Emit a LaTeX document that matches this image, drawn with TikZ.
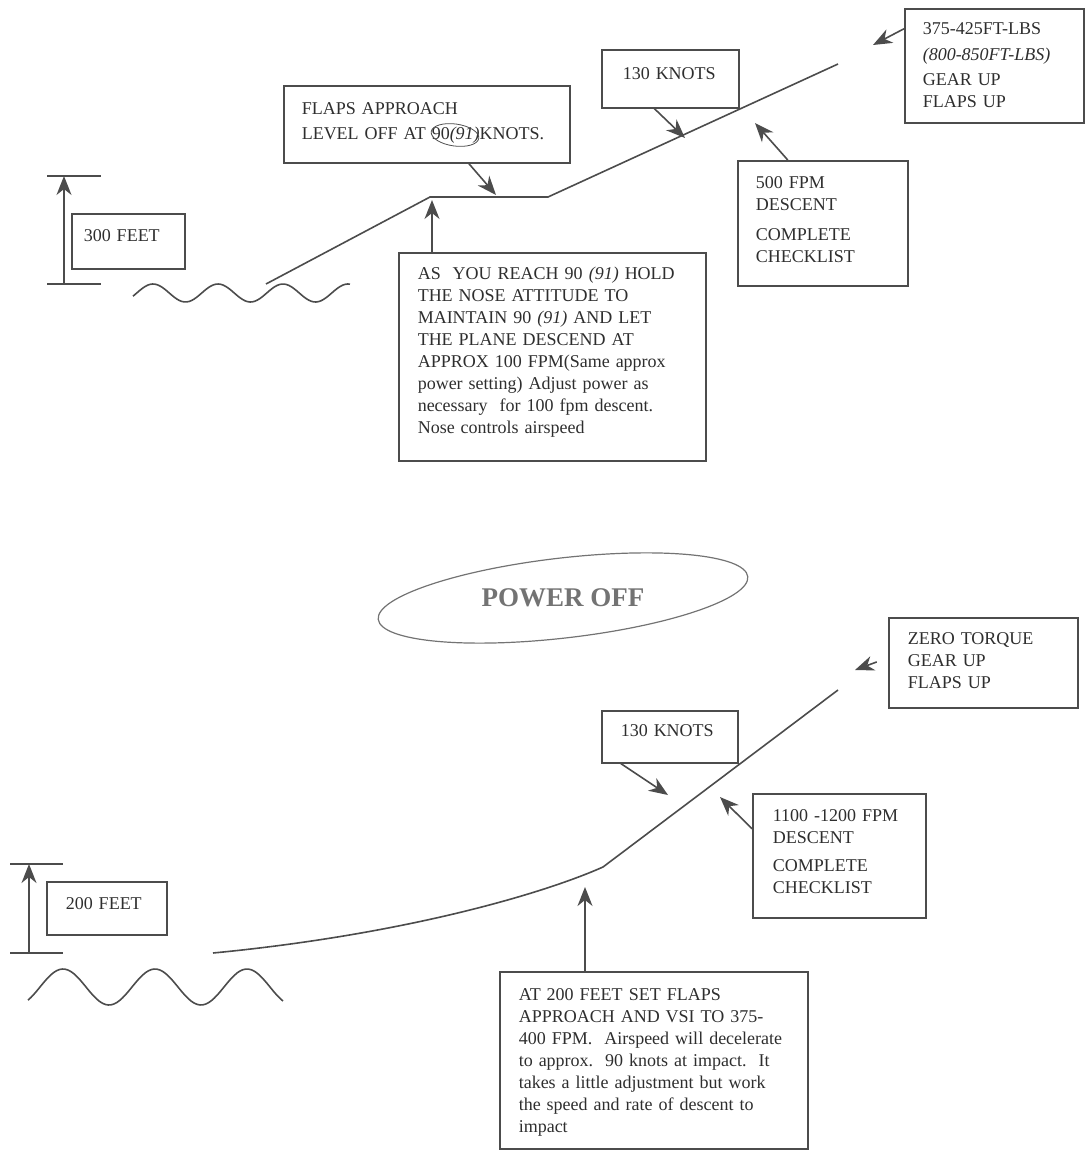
\documentclass[tikz,border=0pt]{standalone}
\usepackage{fontspec}
\setmainfont{Liberation Serif}
\usetikzlibrary{arrows.meta}
\definecolor{ink}{gray}{0.3}
\definecolor{txt}{gray}{0.18}
\tikzset{
  box/.style={draw=ink, line width=1.5pt, anchor=north west, align=left,
    inner ysep=0pt, text=txt, font=\fontsize{18}{22}\selectfont},
  flight/.style={draw=ink, line width=1.6pt},
  tick/.style={draw=ink, line width=1.2pt},
  arr/.style={draw=ink, line width=1.6pt, -{Stealth[length=19pt,width=15pt,inset=6pt]}}
}

\begin{document}
\begin{tikzpicture}[x=1pt,y=-1pt]
\useasboundingbox (0,0) rectangle (1085,1151);
%power on: height and water
\coordinate (hA) at (64,284);
\coordinate (hB) at (64,176);
\draw[tick] ([xshift=-17]hA) -- ([xshift=37]hA);
\draw[tick] ([xshift=-17]hB) -- ([xshift=37]hB);
\draw[arr] (hA) -- (hB);
\draw[flight] plot[domain=133:350,samples=90,smooth] (\x,{293-9*cos(5.5385*(\x-153))});
%power on: flight path
\coordinate (c1) at (266,284);
\coordinate (c2) at (430,197);
\coordinate (c3) at (548,197);
\coordinate (c4) at (838,64);
\draw[flight] (c1) -- (c2) -- (c3) -- (c4);
%power on: boxes
\node[box, inner xsep=12pt, text width=89pt, text height=28pt, text depth=27pt] (ft300) at (71,213) {300 FEET};
\node[box, inner xsep=18pt, text width=250pt, text height=29pt, text depth=48pt] (tflaps) at (283,85)
  {FLAPS APPROACH\\[3pt]LEVEL OFF AT 90\textit{(91)}KNOTS.};
\node[box, inner xsep=21pt, text width=95pt, text height=30pt, text depth=28pt] (tknots) at (601,49) {130 KNOTS};
\node[box, inner xsep=18pt, text width=143pt, text height=26pt, text depth=88pt] (tspeed) at (904,8)
  {375-425FT-LBS\\[4pt]\textit{(800-850FT-LBS)}\\[3pt]GEAR UP\\FLAPS UP};
\node[box, inner xsep=18pt, text width=134pt, text height=28pt, text depth=97pt] (tdesc) at (737,160)
  {500 FPM\\DESCENT\\[8pt]COMPLETE\\CHECKLIST};
\node[box, inner xsep=19pt, text width=269pt, text height=27pt, text depth=181pt] (tnote) at (398,252)
  {AS\ \ YOU REACH 90 \textit{(91)} HOLD\\THE NOSE ATTITUDE TO\\MAINTAIN 90 \textit{(91)} AND LET\\THE PLANE DESCEND AT\\APPROX 100 FPM(Same approx\\power setting) Adjust power as\\necessary\ \ for 100 fpm descent.\\Nose controls airspeed};
\draw[ink, line width=0.8pt, rotate around={-8:(455,135)}] (455,135) ellipse [x radius=24, y radius=11];
%power on: arrows
\coordinate (tp1) at (496,195);
\coordinate (tp2) at (685,138);
\coordinate (tp3) at (755,123);
\coordinate (tp4) at (873,45);
\coordinate (tp5) at (432,200);
\draw[arr] ([xshift=42]tflaps.south) -- (tp1);
\draw[arr] ([xshift=-16]tknots.south) -- (tp2);
\draw[arr] ([xshift=-35]tdesc.north) -- (tp3);
\draw[arr] ([yshift=37]tspeed.west) -- (tp4);
\draw[arr] (tnote.north -| tp5) -- (tp5);

%power off: title
\node[text=black!55, font=\bfseries\fontsize{27}{30}\selectfont] (poff) at (563,598) {POWER OFF};
\draw[black!55, line width=1.2pt, rotate around={6.6:(poff.center)}] (poff.center) ellipse [x radius=186, y radius=40];
%power off: height and water
\coordinate (gA) at (29,953);
\coordinate (gB) at (29,864);
\draw[tick] ([xshift=-19]gA) -- ([xshift=34]gA);
\draw[tick] ([xshift=-19]gB) -- ([xshift=34]gB);
\draw[arr] (gA) -- (gB);
\draw[flight] plot[domain=28:283,samples=90,smooth] (\x,{987-18*cos(3.913*(\x-63))});
%power off: flight path
\coordinate (d1) at (213,953);
\coordinate (d2) at (603,867);
\coordinate (d3) at (838,690);
\draw[flight] (d1) .. controls (400,935) and (540,895) .. (d2) -- (d3);
%power off: boxes
\node[box, inner xsep=19pt, text width=82pt, text height=28pt, text depth=25pt] (ft200) at (46,881) {200 FEET};
\node[box, inner xsep=19pt, text width=98pt, text height=26pt, text depth=26pt] (bknots) at (601,710) {130 KNOTS};
\node[box, inner xsep=19pt, text width=151pt, text height=27pt, text depth=63pt] (bzero) at (888,617)
  {ZERO TORQUE\\GEAR UP\\FLAPS UP};
\node[box, inner xsep=20pt, text width=133pt, text height=28pt, text depth=96pt] (bdesc) at (752,793)
  {1100 -1200 FPM\\DESCENT\\[6pt]COMPLETE\\CHECKLIST};
\node[box, inner xsep=19pt, text width=270pt, text height=29pt, text depth=148pt] (bnote) at (499,971)
  {AT 200 FEET SET FLAPS\\APPROACH AND VSI TO 375-\\400 FPM.\ \ Airspeed will decelerate\\to approx.\ \ 90 knots at impact.\ \ It\\takes a little adjustment but work\\the speed and rate of descent to\\impact};
%power off: arrows
\coordinate (tq1) at (668,795);
\coordinate (tq2) at (720,797);
\coordinate (tq3) at (855,670);
\coordinate (tq4) at (585,887);
\draw[arr] ([xshift=-49]bknots.south) -- (tq1);
\draw[arr] ([yshift=27]bdesc.west) -- (tq2);
\draw[arr, shorten <=12pt] ([yshift=5]bzero.west) -- (tq3);
\draw[arr] (bnote.north -| tq4) -- (tq4);
\end{tikzpicture}
\end{document}
